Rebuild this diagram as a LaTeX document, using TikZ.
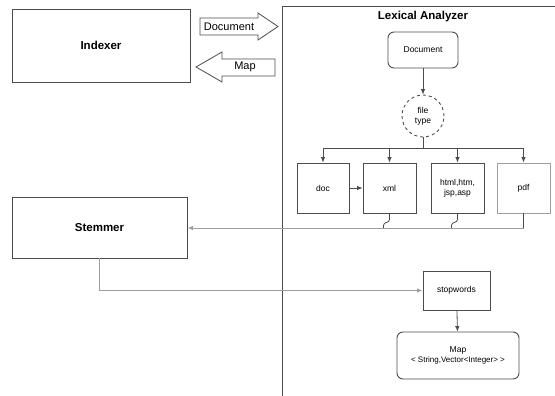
\documentclass[tikz,border=0pt]{standalone}
\usepackage{fontspec}
\setmainfont{Liberation Sans}
\usetikzlibrary{arrows.meta}

\definecolor{edgegray}{gray}{0.3}
\definecolor{wiregray}{gray}{0.62}

\tikzset{
	box/.style={draw=edgegray, line width=0.9pt, inner sep=0pt, align=center, font=\fontsize{8.5}{10}\selectfont},
	rbox/.style={box, rounded corners=6pt},
	bigbox/.style={draw=edgegray, line width=0.9pt, inner sep=0pt, font=\fontsize{11.5}{13}\selectfont\bfseries},
	wire/.style={draw=edgegray, line width=0.8pt},
	feed/.style={draw=wiregray, line width=1pt},
	tip/.style={-{Latex[length=5.5pt,width=4.5pt]}}
}

\begin{document}
\begin{tikzpicture}[x=1pt,y=-1pt]
		\useasboundingbox (0,0) rectangle (555,396);
		
		\node[bigbox, minimum width=178pt, minimum height=73pt] (indexer) at (101,45.5) {Indexer};
		\node[bigbox, minimum width=175pt, minimum height=61pt] (stemmer) at (99.5,227.5) {Stemmer};
		
		% block arrows between Indexer and the analyzer
		\draw[edgegray, line width=0.8pt] (200,18) -- (258,18) -- (258,13) -- (278,26.5) -- (258,40) -- (258,35) -- (200,35) -- cycle;
		\node[font=\fontsize{11}{13}\selectfont] (docarrow) at (229,26.5) {Document};
		\draw[edgegray, line width=0.8pt] (275,59) -- (222,59) -- (222,52) -- (196,67) -- (222,82) -- (222,76) -- (275,76) -- cycle;
		\node[font=\fontsize{11}{13}\selectfont] (maparrow) at (245,67) {Map};
		
		% Lexical Analyzer frame
		\draw[edgegray, line width=0.9pt] (282,396) -- (282,6) -- (555,6);
		\node[font=\fontsize{11.5}{13}\selectfont\bfseries] (lexical) at (423,17) {Lexical Analyzer};
		
		\node[rbox, minimum width=70pt, minimum height=36pt] (document) at (423,50) {Document};
		\node[box, circle, dashed, draw=edgegray, minimum size=42pt] (filetype) at (423,116) {file\\type};
		
		\node[box, minimum width=52pt, minimum height=50pt] (doc) at (323,188) {doc};
		\node[box, minimum width=53pt, minimum height=50pt] (xml) at (389.5,188) {xml};
		\node[box, minimum width=53pt, minimum height=50pt] (html) at (457.5,188) {html,htm,\\jsp,asp};
		\node[box, draw=wiregray, minimum width=53pt, minimum height=50pt] (pdf) at (523.5,188) {pdf};
		
		\node[box, minimum width=67pt, minimum height=39pt] (stopwords) at (456.5,290.5) {stopwords};
		\node[rbox, minimum width=122pt, minimum height=47pt] (map) at (458,355.5) {Map\\{\fontsize{8}{10}\selectfont< String,Vector<Integer> >}};
		
		\coordinate (fork) at (423,148);
		\coordinate (join) at (523.5,228);
		\coordinate (corner) at (stemmer.south |- stopwords.west);
		
		\draw[wire, tip] (document) -- (filetype);
		\draw[wire] (filetype) -- (fork);
		\draw[wire] (doc.north |- fork) -- (pdf.north |- fork);
		\foreach \t in {doc,xml,html,pdf}
			\draw[wire, tip] (\t.north |- fork) -- (\t.north);
		\draw[wire, tip] (doc) -- (xml);
		
		\draw[wire] (pdf.south) -- (join);
		\draw[wire] (xml.south) -- ++(0,6) .. controls +(0,4) and +(0,-4) .. ++(-6,6) -- ++(0,3);
		\draw[wire] (html.south) -- ++(0,6) .. controls +(0,4) and +(0,-4) .. ++(-6,6) -- ++(0,3);
		\draw[feed, tip] (join) -- (stemmer.east |- join);
		
		\draw[feed, tip] (stemmer.south) -- (corner) -- (stopwords.west);
		\draw[wire, tip] (stopwords) -- (map);
	\end{tikzpicture}
\end{document}
